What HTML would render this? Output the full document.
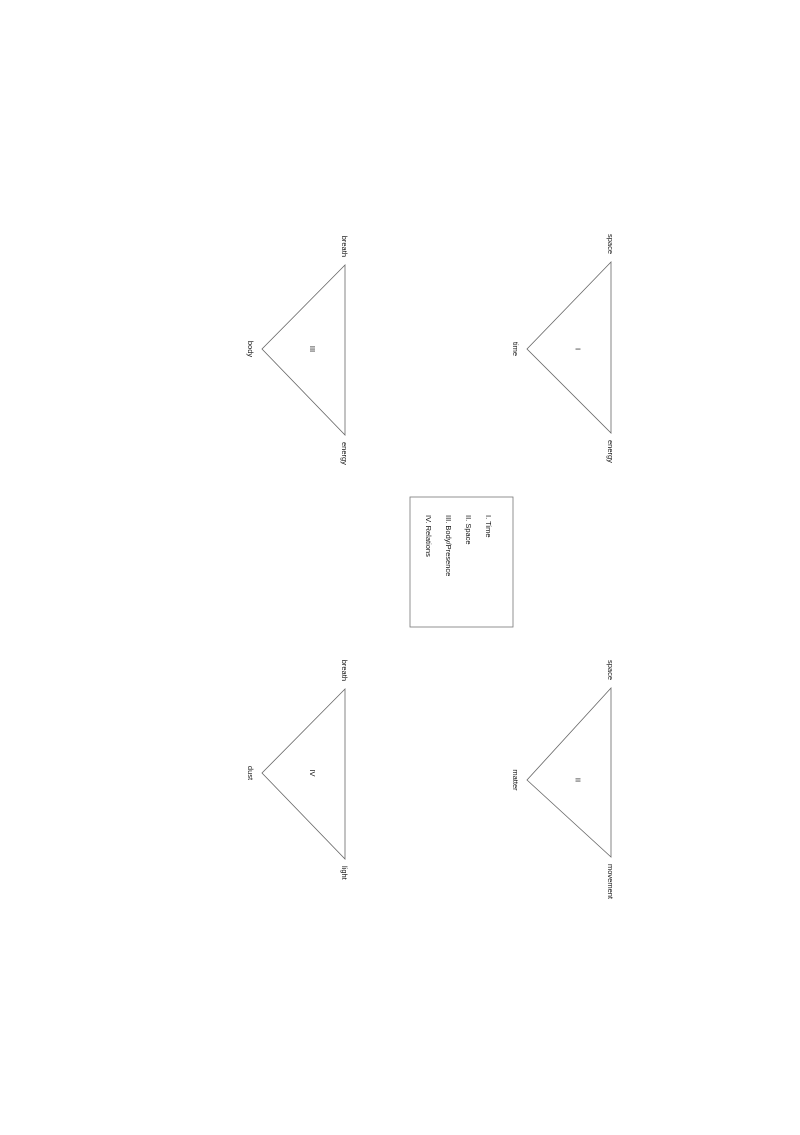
<!DOCTYPE html>
<html><head><meta charset="utf-8"><style>
html,body{margin:0;padding:0;background:#fff;}
svg{display:block;font-family:"Liberation Sans",sans-serif;}
</style></head><body>
<svg id="c" width="800" height="1135" viewBox="0 0 800 1135">
<rect x="410" y="497" width="103" height="130" fill="#fff" stroke="#777" stroke-width="0.8"/>
</svg>
<script>
const triNames=["I","II","III","IV"];
const baseX=[611,611,345,345];
const apexX=[527,527,262,262];
const topY=[262,688,265,689];
const apexY=[349,780,349,773];
const botY=[433,857,435,859];
const topLabels=["space","space","breath","breath"];
const apexLabels=["time","matter","body","dust"];
const botLabels=["energy","movement","energy","light"];
const legendItems=["I. Time","II. Space","III. Body/Presence","IV. Relations"];
const svg=document.getElementById('c');
const NS="http://www.w3.org/2000/svg";
function txt(x,y,s,anchor,size,name){
  const t=document.createElementNS(NS,'text');
  t.setAttribute('x',0);t.setAttribute('y',0);
  t.setAttribute('transform',`translate(${x},${y}) rotate(90)`);
  t.setAttribute('font-size',size);t.setAttribute('text-anchor',anchor);
  t.setAttribute('fill','#111');
  t.textContent=s;
  
  
  svg.appendChild(t);
}
for(let i=0;i<4;i++){
  const p=document.createElementNS(NS,'polygon');
  p.setAttribute('points',`${baseX[i]},${topY[i]} ${apexX[i]},${apexY[i]} ${baseX[i]},${botY[i]}`);
  p.setAttribute('fill','none');p.setAttribute('stroke','#666');p.setAttribute('stroke-width','0.8');
  
  
  svg.appendChild(p);
  txt(baseX[i]-3,topY[i]-8,topLabels[i],'end',7.5,'vertex-label');
  txt(apexX[i]-14,apexY[i],apexLabels[i],'middle',7.5,'vertex-label');
  txt(baseX[i]-3,botY[i]+7,botLabels[i],'start',7.5,'vertex-label');
  txt(apexX[i]+(baseX[i]-apexX[i])*0.6-2,apexY[i],triNames[i],'middle',7.5,'triangle-numeral');
}
legendItems.forEach((s,i)=>{
  txt(486-i*20,515,s,'start',7.5,'legend-entry');
});
</script>
</body></html>
